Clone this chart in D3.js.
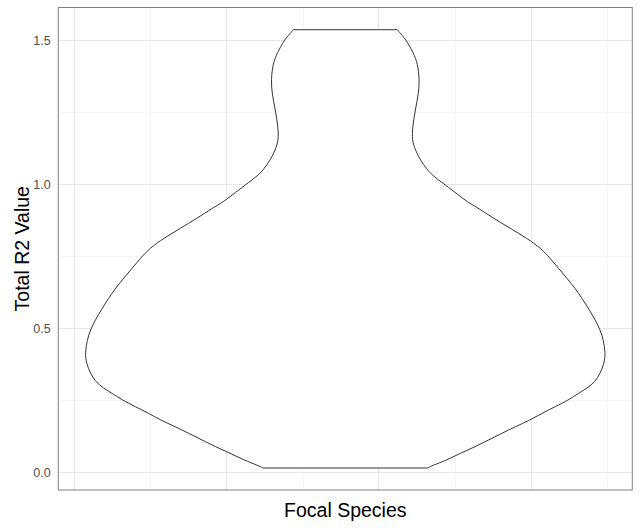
<!DOCTYPE html>
<html>
<head>
<meta charset="utf-8">
<script src="https://cdn.jsdelivr.net/npm/d3@7"></script>
<style>
  html, body { margin: 0; padding: 0; background: #ffffff; }
  svg { display: block; }
</style>
</head>
<body>
<svg id="chart" width="640" height="528"></svg>
<script>
// ---- data ----
const category = 1; // single focal-species group, placed at x = 1
const violinY = [1.5368, 1.5243, 1.5010, 1.4549, 1.4201, 1.3622, 1.3160, 1.2580, 1.2000, 1.1538,
  1.1191, 1.0844, 1.0521, 1.0323, 0.9976, 0.9629, 0.9396, 0.9167, 0.8819, 0.8472,
  0.8125, 0.7778, 0.7431, 0.7083, 0.6736, 0.6389, 0.6042, 0.5635, 0.5288, 0.4941,
  0.4594, 0.4132, 0.3785, 0.3438, 0.3146, 0.2917, 0.2743, 0.2510, 0.2278, 0.2049,
  0.1816, 0.1583, 0.1354, 0.1122, 0.0889, 0.0660, 0.0427, 0.0229, 0.0149];
const violinHalfWidth = [0.0897, 0.0948, 0.1052, 0.1178, 0.1247, 0.1281, 0.1264, 0.1207, 0.1160, 0.1150,
  0.1207, 0.1293, 0.1409, 0.1495, 0.1724, 0.1953, 0.2098, 0.2298, 0.2557, 0.2845,
  0.3133, 0.3374, 0.3534, 0.3678, 0.3822, 0.3966, 0.4081, 0.4212, 0.4310, 0.4397,
  0.4453, 0.4488, 0.4466, 0.4397, 0.4310, 0.4167, 0.4022, 0.3850, 0.3621, 0.3391,
  0.3190, 0.2931, 0.2702, 0.2471, 0.2241, 0.1983, 0.1753, 0.1495, 0.1419];
const yMajorBreaks = [0, 0.5, 1.0, 1.5];
const yMinorBreaks = [0.25, 0.75, 1.25];
const yTickLabels = ["0.0", "0.5", "1.0", "1.5"];
const xMajorBreaks = [0.5326, 0.795, 1.057, 1.3205];
const xMinorBreaks = [0.664, 0.927, 1.190, 1.452];
const xTitle = "Focal Species";
const yTitle = "Total R2 Value";

// ---- layout ----
const panel = { left: 58.3, right: 632.3, top: 7.5, bottom: 490 };
const svg = d3.select("#chart");

const x = d3.scaleLinear().domain([0.505, 1.495]).range([panel.left, panel.right]);
const y = d3.scaleLinear().domain([-0.0615, 1.6139]).range([panel.bottom, panel.top]);

const g = svg.append("g");

// minor grid
g.selectAll("line.ymin").data(yMinorBreaks).join("line")
  .attr("x1", panel.left).attr("x2", panel.right)
  .attr("y1", d => Math.round(y(d)) + 0.5).attr("y2", d => Math.round(y(d)) + 0.5)
  .attr("stroke", "#f5f5f5").attr("stroke-width", 1);
g.selectAll("line.xmin").data(xMinorBreaks).join("line")
  .attr("y1", panel.top).attr("y2", panel.bottom)
  .attr("x1", d => Math.round(x(d)) + 0.5).attr("x2", d => Math.round(x(d)) + 0.5)
  .attr("stroke", "#f5f5f5").attr("stroke-width", 1);
// major grid
g.selectAll("line.ymaj").data(yMajorBreaks).join("line")
  .attr("x1", panel.left).attr("x2", panel.right)
  .attr("y1", d => Math.round(y(d)) + 0.5).attr("y2", d => Math.round(y(d)) + 0.5)
  .attr("stroke", "#e6e6e6").attr("stroke-width", 1);
g.selectAll("line.xmaj").data(xMajorBreaks).join("line")
  .attr("y1", panel.top).attr("y2", panel.bottom)
  .attr("x1", d => Math.round(x(d)) + 0.5).attr("x2", d => Math.round(x(d)) + 0.5)
  .attr("stroke", "#e6e6e6").attr("stroke-width", 1);

// violin
const pts = violinY.map((v, i) => ({ y: v, hw: violinHalfWidth[i] }));
const area = d3.area()
  .y(d => y(d.y))
  .x0(d => x(category - d.hw))
  .x1(d => x(category + d.hw))
  .curve(d3.curveBasis);
g.append("path").datum(pts)
  .attr("d", area)
  .attr("fill", "#ffffff")
  .attr("stroke", "#333333")
  .attr("stroke-width", 1);

// panel border
g.append("rect")
  .attr("x", panel.left).attr("y", panel.top)
  .attr("width", panel.right - panel.left).attr("height", panel.bottom - panel.top)
  .attr("fill", "none").attr("stroke", "#808080").attr("stroke-width", 1);

// y axis labels
const yAxis = d3.axisLeft(y).tickValues(yMajorBreaks)
  .tickFormat((d, i) => yTickLabels[i]).tickSize(0).tickPadding(7.6);
const ya = svg.append("g").attr("transform", `translate(${panel.left},0)`).call(yAxis);
ya.select(".domain").remove();
ya.selectAll("text")
  .attr("fill", "#4d4d4d")
  .style("font-family", "'Liberation Sans', Arial, sans-serif")
  .style("font-size", "12.5px");

// titles
svg.append("text")
  .attr("x", (panel.left + panel.right) / 2).attr("y", 517)
  .attr("text-anchor", "middle")
  .style("font-family", "'Liberation Sans', Arial, sans-serif")
  .style("font-size", "19.5px").attr("fill", "#000")
  .text(xTitle);
svg.append("text")
  .attr("transform", `translate(28.5,${(panel.top + panel.bottom) / 2}) rotate(-90)`)
  .attr("text-anchor", "middle")
  .style("font-family", "'Liberation Sans', Arial, sans-serif")
  .style("font-size", "19.5px").attr("fill", "#000")
  .text(yTitle);
</script>
</body>
</html>
